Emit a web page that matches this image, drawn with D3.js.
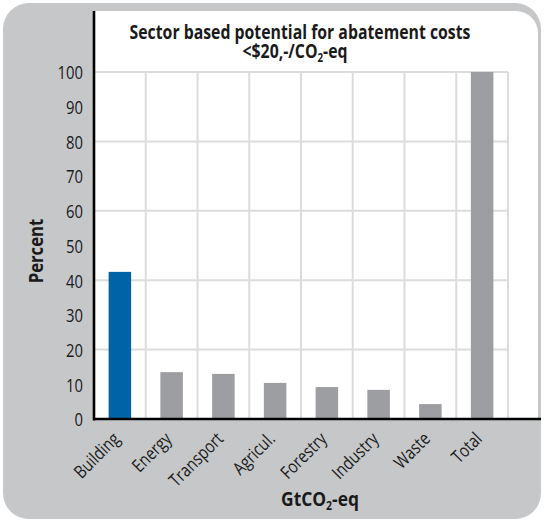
<!DOCTYPE html>
<html><head><meta charset="utf-8">
<script src="https://cdn.jsdelivr.net/npm/d3@7"></script>
<style>
body{margin:0;background:#fff;}
svg{display:block;}
text{font-family:"Open Sans",sans-serif;fill:#1a1a1a;}
</style></head>
<body><svg id="c" width="544" height="522"></svg>
<script>
const categories = ["Building","Energy","Transport","Agricul.","Forestry","Industry","Waste","Total"];
const values = [42.4, 13.5, 13.0, 10.4, 9.2, 8.4, 4.3, 100];
const highlight = ["Building"];
const yTicks = [0,10,20,30,40,50,60,70,80,90,100];
const yGrid = [20,40,60,80,100];

const svg = d3.select("#c");
const L = 94, R = 508, T = 72, B = 419;
const x = d3.scaleBand().domain(categories).range([L, R]).paddingInner(0.565).paddingOuter(0.2825);
const y = d3.scaleLinear().domain([0, 100]).range([B, T]);

// background frame
svg.append("rect").attr("x",3).attr("y",3).attr("width",538).attr("height",516).attr("rx",26).attr("fill","#c6c7c9");
const pr = 22, pR = 538, pT = 11;
svg.append("path").attr("fill","#fff")
  .attr("d",`M${L},${pT} H${pR-pr} A${pr},${pr} 0 0 1 ${pR},${pT+pr} V${B} H${L} Z`);

// grid
svg.append("g").selectAll("line").data(yGrid).join("line")
  .attr("x1",L).attr("x2",R).attr("y1",d=>y(d)).attr("y2",d=>y(d))
  .attr("stroke","#dcdcdc").attr("stroke-width",2);
const step = x.step();
svg.append("g").selectAll("line").data(categories).join("line")
  .attr("x1",d=>x(d)-x.paddingOuter()*step+step).attr("x2",d=>x(d)-x.paddingOuter()*step+step)
  .attr("y1",y(100)).attr("y2",B)
  .attr("stroke","#dcdcdc").attr("stroke-width",2);

// bars
svg.append("g").selectAll("rect").data(categories).join("rect")
  .attr("x",d=>x(d)).attr("width",x.bandwidth())
  .attr("y",(d,i)=>y(values[i])).attr("height",(d,i)=>B-y(values[i]))
  .attr("fill",d=>highlight.includes(d)?"#0063a7":"#9d9ea1");

// axes lines
svg.append("line").attr("x1",L).attr("x2",L).attr("y1",pT).attr("y2",B+1.5).attr("stroke","#000").attr("stroke-width",2.6);
svg.append("line").attr("x1",L).attr("x2",541).attr("y1",B).attr("y2",B).attr("stroke","#000").attr("stroke-width",2.6);

// y ticks
const ya = svg.append("g").attr("transform",`translate(${L-11},0)`)
  .call(d3.axisLeft(y).tickValues(yTicks).tickSize(0).tickPadding(0));
ya.select(".domain").remove();
ya.selectAll("text").attr("font-size","19px").attr("font-family","Open Sans").attr("fill","#1a1a1a")
  .attr("dy","0.36em").attr("transform","scale(0.78,1)");

// x ticks
const xa = svg.append("g").attr("transform",`translate(0,${B})`)
  .call(d3.axisBottom(x).tickSize(0).tickPadding(0));
xa.select(".domain").remove();
xa.selectAll("text").attr("font-size","18px").attr("font-family","Open Sans").attr("fill","#1a1a1a")
  .attr("text-anchor","end").attr("dy",null).attr("y",null)
  .attr("transform","translate(1,21) rotate(-45) scale(0.82,1)");

// fit helper: horizontally compress a text to a target width
function fitK(sel, target){
  return target / sel.node().getBBox().width;
}

// title (two lines in one text element)
const title = svg.append("text").attr("text-anchor","middle").attr("font-weight","bold").attr("font-size","19.5px");
const l1 = title.append("tspan").attr("x",0).attr("y",0).text("Sector based potential for abatement costs");
const k1 = 341 / l1.node().getComputedTextLength();
const l2 = title.append("tspan").attr("x",-5/k1).attr("y",19);
l2.append("tspan").text("<$20,-/CO");
l2.append("tspan").attr("font-size","12px").attr("dy",4).text("2");
l2.append("tspan").attr("dy",-4).text("-eq");
title.attr("transform",`translate(300,39) scale(${k1},1)`);

const py = svg.append("text").attr("text-anchor","middle").attr("font-weight","bold").attr("font-size","20px").text("Percent");
py.attr("transform",`translate(43,251) rotate(-90) scale(${fitK(py,65)},1)`);

const xt = svg.append("text").attr("text-anchor","middle").attr("font-weight","bold").attr("font-size","20px");
xt.append("tspan").text("GtCO");
xt.append("tspan").attr("font-size","12px").attr("dy",4).text("2");
xt.append("tspan").attr("dy",-4).text("-eq");
xt.attr("transform",`translate(320,506) scale(${fitK(xt,78)},1)`);
</script></body></html>
